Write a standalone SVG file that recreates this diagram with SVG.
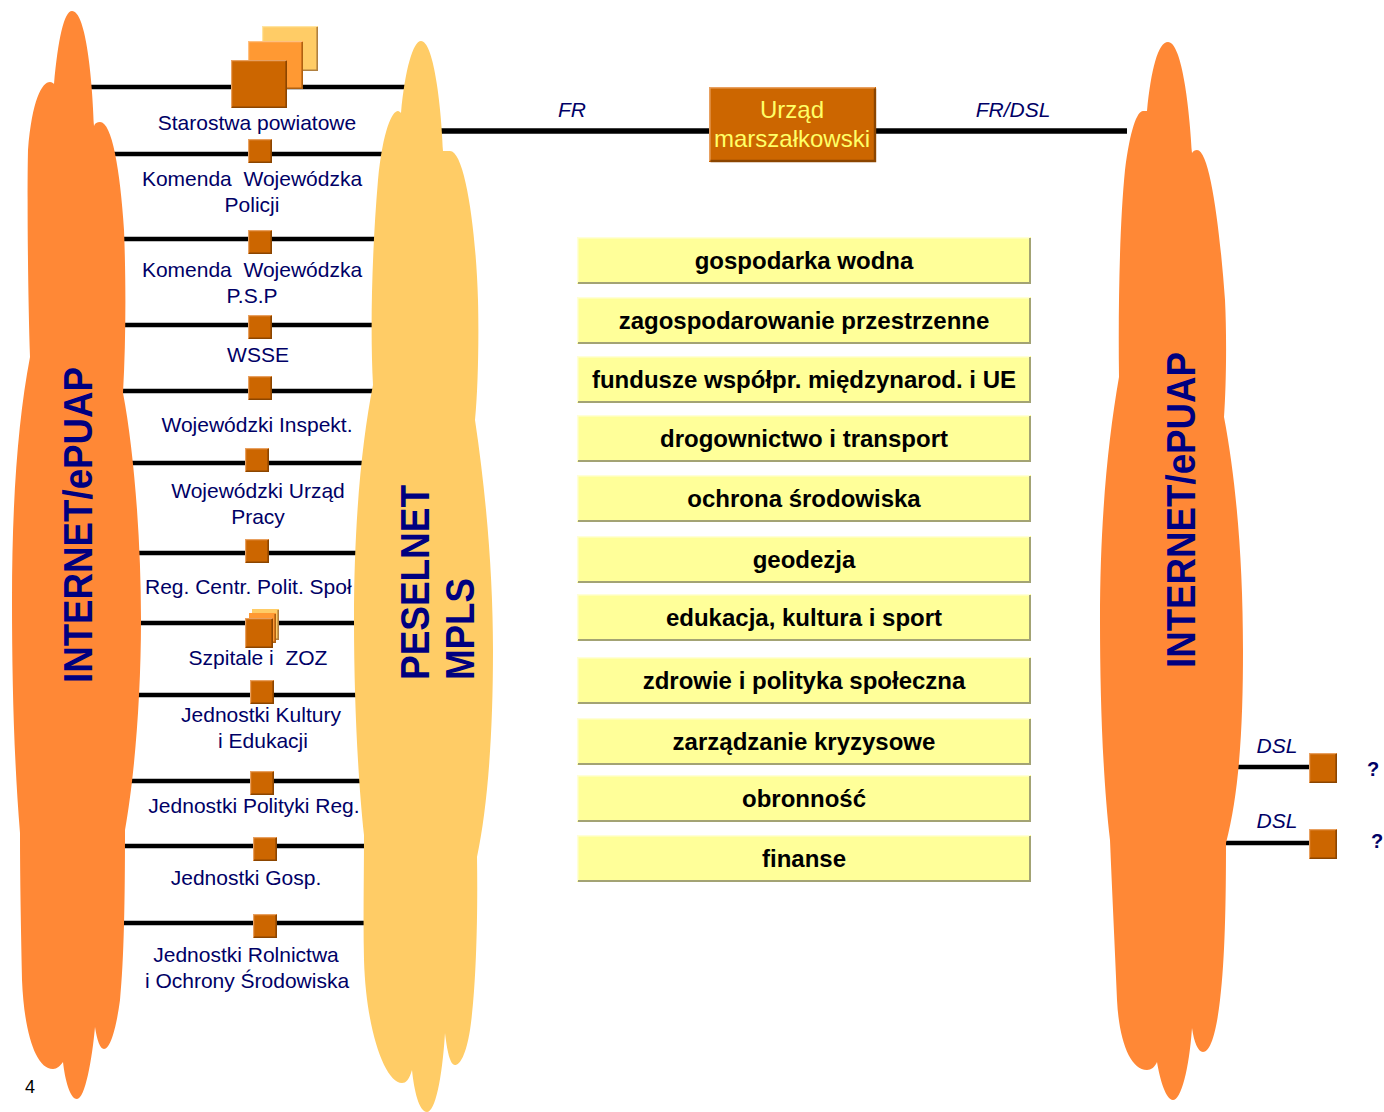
<svg xmlns="http://www.w3.org/2000/svg" xmlns:xlink="http://www.w3.org/1999/xlink" width="1384" height="1112" viewBox="0 0 1384 1112">
<style>
.ln{stroke:#000;stroke-width:4.5;fill:none}
.lb{font-family:"Liberation Sans",Arial,sans-serif;font-size:21px;fill:#000066;text-anchor:middle}
.big{font-family:"Liberation Sans",Arial,sans-serif;font-size:40px;font-weight:bold;fill:#000080}
.it{font-family:"Liberation Sans",Arial,sans-serif;font-size:21px;font-style:italic;fill:#000066;text-anchor:middle}
.box{fill:#FFFF99}
.bt{font-family:"Liberation Sans",Arial,sans-serif;font-size:24px;font-weight:bold;fill:#000;text-anchor:middle}
.hi{stroke:#FFFFD8;stroke-width:1.5;fill:none}
.sh{stroke:#A3A374;stroke-width:2;fill:none}
.orange{fill:#FF8836}
.yel{fill:#FFCC66}
.q{font-family:"Liberation Sans",Arial,sans-serif;font-size:20px;font-weight:bold;fill:#000066}
</style>
<defs>
<g id="sq">
<rect width="24" height="24" fill="#CC6600"/>
<path d="M0.6,23.4 V0.6 H23.4" stroke="#E8A060" stroke-width="1.2" fill="none"/>
<path d="M23.2,1 V23.2 H1" stroke="#8B4500" stroke-width="1.6" fill="none"/>
</g>
<g id="ybox">
<rect width="454" height="47" class="box"/>
<path d="M0.7,46 V0.7 H453" class="hi"/>
<path d="M453,1 V46 H1" class="sh"/>
</g>
</defs>
<rect width="1384" height="1112" fill="#fff"/>

<g id="connectors">
<line class="ln" x1="88" y1="87" x2="406" y2="87"/>
<line class="ln" x1="110" y1="154" x2="386" y2="154"/>
<line class="ln" x1="120" y1="239" x2="378" y2="239"/>
<line class="ln" x1="123" y1="325" x2="374" y2="325"/>
<line class="ln" x1="119" y1="391" x2="377" y2="391"/>
<line class="ln" x1="129" y1="463" x2="365" y2="463"/>
<line class="ln" x1="135" y1="553" x2="360" y2="553"/>
<line class="ln" x1="137" y1="623" x2="358" y2="623"/>
<line class="ln" x1="135" y1="695" x2="359" y2="695"/>
<line class="ln" x1="129" y1="781" x2="363" y2="781"/>
<line class="ln" x1="120" y1="846" x2="369" y2="846"/>
<line class="ln" x1="120" y1="923" x2="368" y2="923"/>
<line x1="440" y1="131" x2="1127" y2="131" stroke="#000" stroke-width="5.5"/>
<line class="ln" x1="1232" y1="767" x2="1310" y2="767"/>
<line class="ln" x1="1222" y1="843" x2="1310" y2="843"/>
</g>

<g id="n-starostwa">
<rect x="262" y="26" width="56" height="45" fill="#FFCC66"/>
<path d="M262.6,70.4 V26.6 H317.4" stroke="#FFE4A0" stroke-width="1.2" fill="none"/>
<path d="M317.2,27 V70.2 H263" stroke="#B08040" stroke-width="1.6" fill="none"/>
<rect x="248" y="41" width="55" height="48" fill="#FF9933"/>
<path d="M248.6,88.4 V41.6 H302.4" stroke="#FFC080" stroke-width="1.2" fill="none"/>
<path d="M302.2,42 V88.2 H249" stroke="#B06010" stroke-width="1.6" fill="none"/>
<rect x="231" y="60" width="56" height="48" fill="#CC6600"/>
<path d="M231.6,107.4 V60.6 H286.4" stroke="#E8A060" stroke-width="1.2" fill="none"/>
<path d="M286.2,61 V107.2 H232" stroke="#8B4500" stroke-width="1.6" fill="none"/>
<text class="lb" x="257" y="130">Starostwa powiatowe</text>
</g>
<g id="n-kwp">
<use xlink:href="#sq" href="#sq" x="248" y="139"/>
<text class="lb" x="252" y="186">Komenda&#160; Wojewódzka</text>
<text class="lb" x="252" y="212">Policji</text>
</g>
<g id="n-kwpsp">
<use xlink:href="#sq" href="#sq" x="248" y="230"/>
<text class="lb" x="252" y="277">Komenda&#160; Wojewódzka</text>
<text class="lb" x="252" y="303">P.S.P</text>
</g>
<g id="n-wsse">
<use xlink:href="#sq" href="#sq" x="248" y="315"/>
<text class="lb" x="258" y="362">WSSE</text>
</g>
<g id="n-inspekt">
<use xlink:href="#sq" href="#sq" x="248" y="376"/>
<text class="lb" x="257" y="432">Wojewódzki Inspekt.</text>
</g>
<g id="n-wup">
<use xlink:href="#sq" href="#sq" x="245" y="448"/>
<text class="lb" x="258" y="498">Wojewódzki Urząd</text>
<text class="lb" x="258" y="524">Pracy</text>
</g>
<g id="n-rcps">
<use xlink:href="#sq" href="#sq" x="245" y="539"/>
<text class="lb" x="145" y="594" style="text-anchor:start">Reg. Centr. Polit. Społ</text>
</g>
<g id="n-szpitale">
<rect x="252" y="609" width="27" height="31" fill="#FFCC66"/>
<path d="M278.2,610 V639.2 H253" stroke="#B08040" stroke-width="1.6" fill="none"/>
<rect x="249" y="613" width="27" height="30" fill="#FF9933"/>
<path d="M275.2,614 V642.2 H250" stroke="#B06010" stroke-width="1.6" fill="none"/>
<rect x="245" y="618" width="28" height="30" fill="#CC6600"/>
<path d="M245.6,647.4 V618.6 H272.4" stroke="#E8A060" stroke-width="1.2" fill="none"/>
<path d="M272.2,619 V647.2 H246" stroke="#8B4500" stroke-width="1.6" fill="none"/>
<text class="lb" x="258" y="665">Szpitale i&#160; ZOZ</text>
</g>
<g id="n-kultura">
<use xlink:href="#sq" href="#sq" x="250" y="680"/>
<text class="lb" x="261" y="722">Jednostki Kultury</text>
<text class="lb" x="263" y="748">i Edukacji</text>
</g>
<g id="n-polityka">
<use xlink:href="#sq" href="#sq" x="250" y="771"/>
<text class="lb" x="254" y="813">Jednostki Polityki Reg.</text>
</g>
<g id="n-gosp">
<use xlink:href="#sq" href="#sq" x="253" y="837"/>
<text class="lb" x="246" y="885">Jednostki Gosp.</text>
</g>
<g id="n-rolnictwo">
<use xlink:href="#sq" href="#sq" x="253" y="914"/>
<text class="lb" x="246" y="962">Jednostki Rolnictwa</text>
<text class="lb" x="247" y="988">i Ochrony Środowiska</text>
</g>

<g id="cloud-left">
<path class="orange" d="M72,11 C85,11 92,70 94,126 C95,123 97,122 100,122 C112,122 120,170 124,230 C126,280 126,340 123,393 C134,450 141,540 141,620 C141,700 134,780 125,830 C125,900 124,960 120,1000 C116,1030 110,1049 104,1049 C100,1049 97,1040 95,1027 C92,1060 85,1099 77,1099 C70,1099 65,1080 63,1062 C60,1066 57,1069 53,1069 C35,1069 24,1030 22,980 C21,930 20,880 20,833 C14,760 12,680 12,600 C12,500 18,420 30,357 C28,300 27,200 28,150 C32,100 42,82 50,82 C52,82 53,83 54,84 C58,40 64,11 72,11 Z"/>
<text class="big" transform="translate(92,683) rotate(-90)" textLength="316" lengthAdjust="spacingAndGlyphs">INTERNET/ePUAP</text>
</g>

<g id="cloud-peselnet">
<path class="yel" d="M421,41 C433,41 441,100 443,151 C445,151 447,151 450,151 C465,151 476,230 478,300 C479,340 478,390 475,420 C487,500 493,580 493,650 C493,740 487,810 477,857 C478,920 476,990 470,1030 C466,1055 460,1065 455,1065 C450,1065 447,1050 445,1033 C442,1080 435,1112 427,1112 C419,1112 414,1090 412,1070 C409,1080 406,1083 402,1083 C385,1083 366,1030 364,960 C363,920 364,880 364,835 C358,780 354,700 354,620 C354,520 362,440 373,385 C370,330 372,250 378,180 C383,130 392,111 398,111 C399,111 400,112 401,113 C405,70 413,41 421,41 Z"/>
<text class="big" transform="translate(429,680) rotate(-90)" textLength="195" lengthAdjust="spacingAndGlyphs">PESELNET</text>
<text class="big" transform="translate(474,680) rotate(-90)" textLength="102" lengthAdjust="spacingAndGlyphs">MPLS</text>
</g>

<g id="cloud-right">
<path class="orange" d="M1168,42 C1181,42 1189,100 1192,153 C1193,151 1195,150 1197,150 C1210,150 1220,230 1225,300 C1227,340 1226,390 1224,417 C1236,480 1243,560 1243,650 C1243,720 1240,790 1226,843 C1226,900 1225,960 1220,1000 C1216,1035 1210,1052 1203,1052 C1198,1052 1194,1042 1192,1028 C1189,1070 1181,1100 1173,1100 C1166,1100 1160,1080 1157,1062 C1155,1067 1151,1070 1147,1070 C1130,1070 1119,1040 1117,1000 C1115,950 1112,890 1110,840 C1103,780 1100,700 1100,620 C1100,520 1108,440 1119,377 C1118,300 1120,220 1125,170 C1130,130 1137,111 1143,111 C1145,111 1146,111 1147,111 C1151,70 1158,42 1168,42 Z"/>
<text class="big" transform="translate(1195,668) rotate(-90)" textLength="316" lengthAdjust="spacingAndGlyphs">INTERNET/ePUAP</text>
</g>

<g id="link-labels">
<text class="it" x="572" y="117">FR</text>
<text class="it" x="1013" y="117">FR/DSL</text>
</g>

<g id="n-urzad">
<rect x="709" y="87" width="167" height="75" fill="#CC6600"/>
<path d="M709.8,161 V87.8 H875" stroke="#E8A060" stroke-width="1.6" fill="none"/>
<path d="M875,88.5 V161 H710.5" stroke="#8B4500" stroke-width="2.4" fill="none"/>
<text x="792" y="118" style="font-family:'Liberation Sans',Arial,sans-serif;font-size:24px;fill:#FFFF66;text-anchor:middle">Urząd</text>
<text x="792" y="147" style="font-family:'Liberation Sans',Arial,sans-serif;font-size:24px;fill:#FFFF66;text-anchor:middle">marszałkowski</text>
</g>

<g id="n-gospodarka"><use xlink:href="#ybox" href="#ybox" x="577" y="237"/><text class="bt" x="804" y="269">gospodarka wodna</text></g>
<g id="n-zagosp"><use xlink:href="#ybox" href="#ybox" x="577" y="297"/><text class="bt" x="804" y="329">zagospodarowanie przestrzenne</text></g>
<g id="n-fundusze"><use xlink:href="#ybox" href="#ybox" x="577" y="356"/><text class="bt" x="804" y="388">fundusze współpr. międzynarod. i UE</text></g>
<g id="n-drogi"><use xlink:href="#ybox" href="#ybox" x="577" y="415"/><text class="bt" x="804" y="447">drogownictwo i transport</text></g>
<g id="n-ochrona"><use xlink:href="#ybox" href="#ybox" x="577" y="475"/><text class="bt" x="804" y="507">ochrona środowiska</text></g>
<g id="n-geodezja"><use xlink:href="#ybox" href="#ybox" x="577" y="536"/><text class="bt" x="804" y="568">geodezja</text></g>
<g id="n-edukacja"><use xlink:href="#ybox" href="#ybox" x="577" y="594"/><text class="bt" x="804" y="626">edukacja, kultura i sport</text></g>
<g id="n-zdrowie"><use xlink:href="#ybox" href="#ybox" x="577" y="657"/><text class="bt" x="804" y="689">zdrowie i polityka społeczna</text></g>
<g id="n-kryzys"><use xlink:href="#ybox" href="#ybox" x="577" y="718"/><text class="bt" x="804" y="750">zarządzanie kryzysowe</text></g>
<g id="n-obronnosc"><use xlink:href="#ybox" href="#ybox" x="577" y="775"/><text class="bt" x="804" y="807">obronność</text></g>
<g id="n-finanse"><use xlink:href="#ybox" href="#ybox" x="577" y="835"/><text class="bt" x="804" y="867">finanse</text></g>

<g id="n-dsl1">
<text class="it" x="1277" y="753">DSL</text>
<rect x="1309" y="753" width="28" height="30" fill="#CC6600"/>
<path d="M1309.6,782.4 V753.6 H1336.4" stroke="#E8A060" stroke-width="1.2" fill="none"/>
<path d="M1336.2,754 V782.2 H1310" stroke="#8B4500" stroke-width="1.6" fill="none"/>
<text class="q" x="1367" y="776">?</text>
</g>
<g id="n-dsl2">
<text class="it" x="1277" y="828">DSL</text>
<rect x="1309" y="829" width="28" height="30" fill="#CC6600"/>
<path d="M1309.6,858.4 V829.6 H1336.4" stroke="#E8A060" stroke-width="1.2" fill="none"/>
<path d="M1336.2,830 V858.2 H1310" stroke="#8B4500" stroke-width="1.6" fill="none"/>
<text class="q" x="1371" y="848">?</text>
</g>

<text x="25" y="1093" style="font-family:'Liberation Sans',Arial,sans-serif;font-size:18px;fill:#000">4</text>
</svg>
